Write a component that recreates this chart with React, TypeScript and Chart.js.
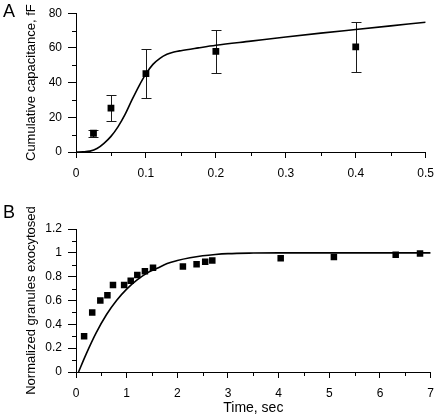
import React, { useEffect, useRef } from "react";
import { Chart, registerables } from "chart.js";
Chart.register(...registerables);

// ---------- Panel A data ----------
const capX = [0.025, 0.05, 0.1, 0.2, 0.4];
const capY = [10.8, 25.3, 45.2, 58.0, 60.6];
const capErr = [1.9, 7.5, 14.3, 12.5, 14.5];
const capFitX = [0, 0.01, 0.02, 0.03, 0.04, 0.05, 0.06, 0.07, 0.08, 0.09, 0.1, 0.11, 0.12, 0.13, 0.14, 0.15, 0.175, 0.2, 0.25, 0.3, 0.35, 0.4, 0.45, 0.5];
const capFitY = [0, 0.1, 0.5, 2, 5, 9, 14.5, 21.5, 30, 38, 45, 50.5, 54, 56.3, 57.6, 58.4, 60, 61.5, 63.9, 66.3, 68.5, 70.6, 72.7, 74.8];
const capXTicks = [0, 0.1, 0.2, 0.3, 0.4, 0.5];
const capXLabels = ["0", "0.1", "0.2", "0.3", "0.4", "0.5"];
const capYTicks = [0, 20, 40, 60, 80];
const capYLabels = ["0", "20", "40", "60", "80"];

// ---------- Panel B data ----------
const timeX = [0.16, 0.32, 0.48, 0.62, 0.73, 0.95, 1.08, 1.21, 1.36, 1.52, 2.11, 2.38, 2.55, 2.69, 4.04, 5.09, 6.31, 6.79];
const granY = [0.30, 0.50, 0.60, 0.645, 0.73, 0.73, 0.765, 0.815, 0.845, 0.875, 0.885, 0.905, 0.925, 0.935, 0.955, 0.965, 0.984, 0.995];
const granFitX = [0.05, 0.2, 0.4, 0.6, 0.8, 1.0, 1.2, 1.4, 1.6, 1.8, 2.0, 2.25, 2.5, 2.75, 3.0, 3.5, 4.0, 5.0, 6.0, 7.0];
const granFitY = [0, 0.15, 0.33, 0.48, 0.6, 0.695, 0.77, 0.83, 0.87, 0.91, 0.935, 0.958, 0.975, 0.986, 0.993, 0.998, 1.0, 1.0, 1.0, 1.0];
const timeXTicks = [0, 1, 2, 3, 4, 5, 6, 7];
const timeXLabels = ["0", "1", "2", "3", "4", "5", "6", "7"];
const granYTicks = [0, 0.2, 0.4, 0.6, 0.8, 1.0, 1.2];
const granYLabels = ["0", "0.2", "0.4", "0.6", "0.8", "1", "1.2"];

const FONT = "'Liberation Sans', Arial, Helvetica, sans-serif";

const errorBarPlugin = {
  id: "errorBars",
  beforeDatasetsDraw(chart: any, _args: any, opts: any) {
    if (!opts || !opts.err) return;
    const { ctx } = chart;
    const x = chart.scales.x;
    const y = chart.scales.y;
    ctx.save();
    ctx.strokeStyle = "#1a1a1a";
    ctx.lineWidth = 1;
    ctx.beginPath();
    opts.xs.forEach((xv: number, i: number) => {
      const px = Math.round(x.getPixelForValue(xv)) + 0.5;
      const top = Math.round(y.getPixelForValue(opts.ys[i] + opts.err[i])) + 0.5;
      const bot = Math.round(y.getPixelForValue(opts.ys[i] - opts.err[i])) + 0.5;
      ctx.moveTo(px, top);
      ctx.lineTo(px, bot);
      ctx.moveTo(px - 5, top);
      ctx.lineTo(px + 5, top);
      ctx.moveTo(px - 5, bot);
      ctx.lineTo(px + 5, bot);
    });
    ctx.stroke();
    ctx.restore();
  },
};

const minorTickPlugin = {
  id: "minorTicks",
  afterDraw(chart: any) {
    const { ctx, chartArea } = chart;
    const x = chart.scales.x;
    const y = chart.scales.y;
    const len = 4;
    ctx.save();
    ctx.strokeStyle = "#000";
    ctx.lineWidth = 1;
    ctx.beginPath();
    for (let i = 0; i < x.ticks.length - 1; i++) {
      const v = (x.ticks[i].value + x.ticks[i + 1].value) / 2;
      const px = Math.round(x.getPixelForValue(v)) + 0.5;
      ctx.moveTo(px, chartArea.bottom);
      ctx.lineTo(px, chartArea.bottom + len);
    }
    for (let i = 0; i < y.ticks.length - 1; i++) {
      const v = (y.ticks[i].value + y.ticks[i + 1].value) / 2;
      const py = Math.round(y.getPixelForValue(v)) + 0.5;
      ctx.moveTo(chartArea.left, py);
      ctx.lineTo(chartArea.left - len, py);
    }
    ctx.stroke();
    ctx.restore();
  },
};

function makeScales(opts: {
  xMin: number; xMax: number; yMin: number; yMax: number;
  xTicks: number[]; xLabels: string[]; yTicks: number[]; yLabels: string[];
  yTitle: string; xTitle?: string;
}) {
  const tickFont = { family: FONT, size: 12 };
  return {
    x: {
      type: "linear",
      min: opts.xMin,
      max: opts.xMax,
      afterBuildTicks: (s: any) => { s.ticks = opts.xTicks.map((v) => ({ value: v })); },
      afterFit: (s: any) => { s.height = 48; },
      ticks: {
        color: "#000",
        font: tickFont,
        padding: 8,
        maxRotation: 0,
        autoSkip: false,
        callback: (_v: any, i: number) => opts.xLabels[i],
      },
      grid: { display: true, drawOnChartArea: false, drawTicks: true, tickLength: 6, tickColor: "#000", lineWidth: 1 },
      border: { display: true, color: "#000", width: 1 },
      title: opts.xTitle
        ? { display: true, text: opts.xTitle, color: "#000", font: { family: FONT, size: 14 }, padding: { top: 0, bottom: 3 } }
        : { display: false },
    },
    y: {
      type: "linear",
      min: opts.yMin,
      max: opts.yMax,
      afterBuildTicks: (s: any) => { s.ticks = opts.yTicks.map((v) => ({ value: v })); },
      afterFit: (s: any) => { s.width = 76; },
      ticks: {
        color: "#000",
        font: tickFont,
        padding: 6,
        autoSkip: false,
        callback: (_v: any, i: number) => opts.yLabels[i],
      },
      grid: { display: true, drawOnChartArea: false, drawTicks: true, tickLength: 8, tickColor: "#000", lineWidth: 1 },
      border: { display: true, color: "#000", width: 1 },
      title: { display: true, text: opts.yTitle, color: "#000", font: { family: FONT, size: 13 }, padding: { top: 24, bottom: 0 } },
    },
  };
}

export default function App() {
  const refA = useRef<HTMLCanvasElement>(null);
  const refB = useRef<HTMLCanvasElement>(null);

  useEffect(() => {
    const chartA = new Chart(refA.current as HTMLCanvasElement, {
      type: "scatter",
      data: {
        datasets: [
          {
            data: capFitX.map((x, i) => ({ x, y: capFitY[i] })),
            showLine: true,
            borderColor: "#000",
            borderWidth: 1.6,
            pointRadius: 0,
            cubicInterpolationMode: "monotone",
          } as any,
          {
            data: capX.map((x, i) => ({ x, y: capY[i] })),
            showLine: false,
            pointStyle: "rect",
            pointRadius: 4.8,
            backgroundColor: "#000",
            borderColor: "#000",
            borderWidth: 0,
          } as any,
        ],
      },
      options: {
        animation: false,
        responsive: false,
        layout: { padding: { top: 10, right: 11, left: 0, bottom: 0 } },
        plugins: {
          legend: { display: false },
          tooltip: { enabled: false },
          errorBars: { xs: capX, ys: capY, err: capErr },
        } as any,
        scales: makeScales({
          xMin: 0, xMax: 0.5, yMin: 0, yMax: 80,
          xTicks: capXTicks, xLabels: capXLabels, yTicks: capYTicks, yLabels: capYLabels,
          yTitle: "Cumulative capacitance, fF",
        }) as any,
      },
      plugins: [errorBarPlugin, minorTickPlugin],
    });

    const chartB = new Chart(refB.current as HTMLCanvasElement, {
      type: "scatter",
      data: {
        datasets: [
          {
            data: granFitX.map((x, i) => ({ x, y: granFitY[i] })),
            showLine: true,
            borderColor: "#000",
            borderWidth: 1.6,
            pointRadius: 0,
            cubicInterpolationMode: "monotone",
          } as any,
          {
            data: timeX.map((x, i) => ({ x, y: granY[i] })),
            showLine: false,
            pointStyle: "rect",
            pointRadius: 4.6,
            backgroundColor: "#000",
            borderColor: "#000",
            borderWidth: 0,
          } as any,
        ],
      },
      options: {
        animation: false,
        responsive: false,
        layout: { padding: { top: 29, right: 11, left: 0, bottom: 0 } },
        plugins: {
          legend: { display: false },
          tooltip: { enabled: false },
        } as any,
        scales: makeScales({
          xMin: 0, xMax: 7, yMin: 0, yMax: 1.2,
          xTicks: timeXTicks, xLabels: timeXLabels, yTicks: granYTicks, yLabels: granYLabels,
          yTitle: "Normalized granules exocytosed", xTitle: "Time, sec",
        }) as any,
      },
      plugins: [minorTickPlugin],
    });

    return () => {
      chartA.destroy();
      chartB.destroy();
    };
  }, []);

  const letter: React.CSSProperties = {
    position: "absolute",
    left: 3,
    fontFamily: FONT,
    fontSize: 18,
    lineHeight: "18px",
    color: "#000",
  };

  return (
    <div style={{ position: "fixed", left: 0, top: 0, width: 442, height: 420, background: "#fff" }}>
      <canvas ref={refA} width={442} height={200} style={{ position: "absolute", left: 0, top: 0, display: "block" }} />
      <canvas ref={refB} width={442} height={220} style={{ position: "absolute", left: 0, top: 200, display: "block" }} />
      <span style={{ ...letter, top: 2 }}>A</span>
      <span style={{ ...letter, top: 203 }}>B</span>
    </div>
  );
}
